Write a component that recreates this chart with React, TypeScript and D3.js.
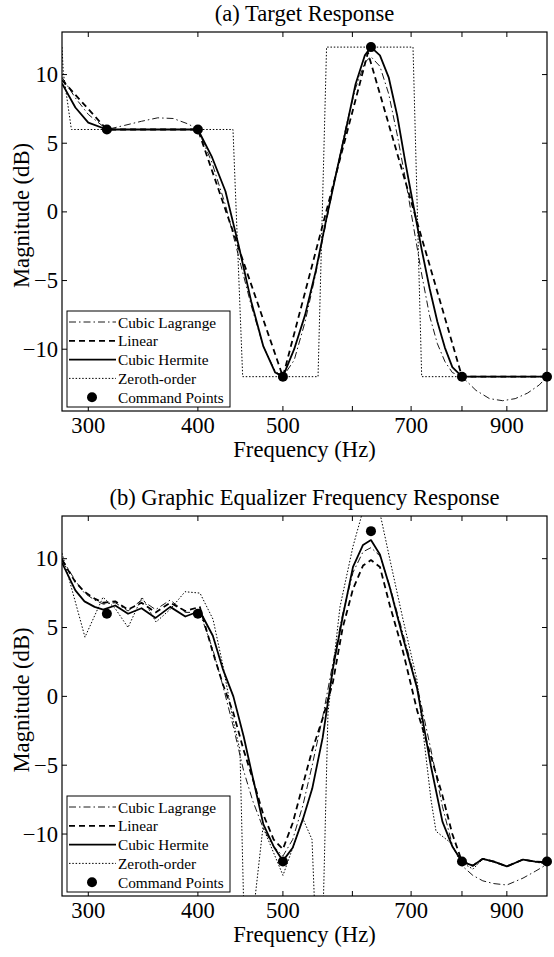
import * as d3 from "d3";

// command points shared by both panels
const cmdFreq = [315, 400, 500, 630, 800, 1000];
const cmdDb = [6, 6, -12, 12, -12, -12];

const xTicks = [300, 400, 500, 600, 700, 800, 900];
const xTickLabels = ["300", "400", "500", "", "700", "", "900"];
const yTicks = [10, 5, 0, -5, -10];

// (a) target response
const freqA = [
  280, 290, 300, 315, 330, 345, 360, 375, 390, 400, 415, 430, 445, 460, 475,
  490, 500, 515, 530, 545, 560, 575, 590, 605, 620, 630, 645, 660, 675, 690,
  705, 720, 735, 750, 765, 780, 800, 830, 860, 890, 920, 950, 980, 1000,
];
const lagrangeA = [
  9.8, 8.3, 7.1, 6.0, 6.3, 6.6, 6.85, 6.8, 6.4, 6.0, 3.6, 0.5, -3.2, -6.8,
  -9.8, -11.6, -12.0, -10.8, -8.0, -4.5, -0.8, 2.8, 6.2, 9.0, 10.9, 11.3, 10.6,
  8.6, 5.6, 2.3, -1.2, -4.6, -7.6, -9.6, -10.9, -11.7, -12.0, -13.0, -13.6,
  -13.75, -13.6, -13.2, -12.6, -12.0,
];
const hermiteA = [
  9.35, 7.6, 6.5, 6.0, 6.0, 6.0, 6.0, 6.0, 6.0, 6.0, 4.0, 1.5, -2.4, -6.5,
  -9.8, -11.7, -12.0, -10.0, -7.5, -4.3, -0.6, 2.8, 6.0, 9.3, 11.4, 12.0, 11.4,
  9.8, 7.0, 3.5, 0.3, -2.8, -5.6, -8.0, -9.9, -11.3, -12.0, -12.0, -12.0,
  -12.0, -12.0, -12.0, -12.0, -12.0,
];
const linearFreqA = [280, 315, 400, 500, 625, 800, 1000];
const linearA = [9.6, 6, 6, -12, 11.6, -12, -12];
const zeroFreqA = [280, 281, 287, 438.6, 449.9, 548.3, 560.7, 703.5, 719.7, 1000];
const zeroA = [12, 10.1, 6, 6, -12, -12, 12, 12, -12, -12];

// (b) graphic equalizer frequency response
const freqB = [
  280, 290, 297, 305, 312, 322, 333, 345, 358, 372, 387, 402, 416, 427, 439,
  451, 462, 475, 488, 500, 513, 527, 540, 555, 570, 585, 601, 617, 630, 645,
  662, 685, 711, 737, 760, 780, 800, 823, 845, 870, 900, 939, 970, 1000,
];
const lagrangeB = [
  10.0, 8.4, 7.5, 7.0, 6.7, 6.8, 6.2, 7.0, 6.3, 7.0, 6.1, 6.1, 3.4, 0.8, -2.2,
  -5.4, -7.6, -9.6, -10.9, -11.6, -10.4, -7.9, -5.0, -1.5, 2.4, 6.0, 9.0, 10.5,
  10.8, 10.2, 8.0, 4.6, 0.8, -3.8, -8.0, -10.8, -12.3, -13.0, -13.4, -13.6,
  -13.7, -13.2, -12.7, -12.2,
];
const linearB = [
  9.9, 8.3, 7.6, 7.1, 6.8, 6.9, 6.3, 6.8, 6.1, 6.8, 6.2, 6.5, 3.2, 0.9, -1.2,
  -3.9, -6.0, -8.6, -10.4, -11.1, -9.2, -6.4, -3.9, -1.6, 1.0, 5.0, 7.8, 9.5,
  9.9, 9.4, 6.6, 3.3, -1.0, -4.3, -7.2, -10.0, -12.0, -12.3, -11.8, -12.0,
  -12.35, -11.85, -12.0, -12.05,
];
const hermiteB = [
  9.7, 7.7, 6.9, 6.5, 6.3, 6.6, 6.0, 6.4, 5.7, 6.5, 5.8, 6.2, 4.4, 2.0, 0.0,
  -2.9, -5.9, -9.3, -10.9, -11.95, -11.0, -8.9, -6.7, -3.0, 2.0, 5.8, 9.4, 11.0,
  11.35, 10.3, 7.9, 4.3, 0.6, -5.0, -9.1, -10.9, -12.0, -12.3, -11.8, -12.0,
  -12.35, -11.85, -12.0, -12.05,
];
const zeroFreqB = [
  280, 297.4, 311.8, 321.8, 333, 345.4, 358.4, 371.7, 386.7, 402.2, 416.2,
  427.3, 438.6, 446.7, 451.4, 462.2, 474.5, 500.1, 527.1, 539.7, 544, 555.5,
  562.8, 580.8, 601, 617, 630.1, 645.1, 662.3, 685.2, 710.9, 737.5, 747.3,
  775.3, 800, 823.4, 845.3, 900.4, 939, 1000,
];
const zeroB = [
  10.4, 4.3, 7.2, 6.4, 5.0, 7.2, 5.4, 6.3, 7.6, 7.5, 5.6, 2.2, -1.7, -3.9, -16,
  -16, -9.5, -13.0, -8.9, -10.4, -16, -16, -1.2, 6.5, 10.9, 13.5, 14.2, 13.3,
  9.9, 5.6, 1.2, -7.5, -9.8, -10.6, -12.07, -12.55, -11.8, -12.35, -11.85,
  -12.2,
];

const legendNames = [
  "Cubic Lagrange",
  "Linear",
  "Cubic Hermite",
  "Zeroth-order",
  "Command Points",
];

const styles = [
  { width: 0.9, dash: "7,3,1.5,3" },
  { width: 1.8, dash: "6,4" },
  { width: 1.8, dash: "none" },
  { width: 1, dash: "1.5,1.8" },
];

const FONT = "'Liberation Serif', 'Times New Roman', serif";
const FS = 22.6;

type Series = { f: number[]; v: number[] };

const Panel = ({
  id,
  title,
  top,
  bottom,
  series,
}: {
  id: string;
  title: string;
  top: number;
  bottom: number;
  series: Series[];
}) => {
  const left = 62;
  const right = 547;
  const x = d3.scaleLog().domain([280, 1000]).range([left, right]);
  const y = d3.scaleLinear().domain([-14.5, 13.1]).range([bottom, top]);
  const line = d3
    .line<[number, number]>()
    .x((d) => x(d[0]))
    .y((d) => y(d[1]));

  const legTop = bottom - 100;
  const legLeft = 67;
  const rowH = 18.8;

  return (
    <g>
      <defs>
        <clipPath id={id}>
          <rect x={left} y={top} width={right - left} height={bottom - top} />
        </clipPath>
      </defs>
      <text
        x={(left + right) / 2}
        y={top - 11}
        textAnchor="middle"
        fontSize={FS}
        fontFamily={FONT}
      >
        {title}
      </text>

      <g clipPath={`url(#${id})`}>
        {series.map((s, i) => (
          <path
            key={i}
            d={line(s.f.map((f, j) => [f, s.v[j]] as [number, number])) || ""}
            fill="none"
            stroke="#000"
            strokeWidth={styles[i].width}
            strokeDasharray={styles[i].dash}
            strokeLinejoin="round"
          />
        ))}
      </g>
      {cmdFreq.map((f, i) => (
        <circle key={f} cx={x(f)} cy={y(cmdDb[i])} r={5} fill="#000" />
      ))}

      {/* box */}
      <rect
        x={left}
        y={top}
        width={right - left}
        height={bottom - top}
        fill="none"
        stroke="#000"
        strokeWidth={1.2}
      />
      {xTicks.map((t, i) => (
        <g key={t}>
          <line x1={x(t)} x2={x(t)} y1={bottom} y2={bottom - 5} stroke="#000" />
          <line x1={x(t)} x2={x(t)} y1={top} y2={top + 5} stroke="#000" />
          <text
            x={x(t)}
            y={bottom + 22}
            textAnchor="middle"
            fontSize={FS}
            fontFamily={FONT}
          >
            {xTickLabels[i]}
          </text>
        </g>
      ))}
      {yTicks.map((t) => (
        <g key={t}>
          <line x1={left} x2={left + 5} y1={y(t)} y2={y(t)} stroke="#000" />
          <line x1={right} x2={right - 5} y1={y(t)} y2={y(t)} stroke="#000" />
          <text
            x={left - 4}
            y={y(t)}
            textAnchor="end"
            dominantBaseline="central"
            fontSize={FS}
            fontFamily={FONT}
          >
            {t < 0 ? `\u2212${-t}` : t}
          </text>
        </g>
      ))}
      <text
        x={(left + right) / 2}
        y={bottom + 46}
        textAnchor="middle"
        fontSize={FS}
        fontFamily={FONT}
      >
        Frequency (Hz)
      </text>
      <text
        transform={`translate(21,${(top + bottom) / 2 - 6}) rotate(-90)`}
        textAnchor="middle"
        dominantBaseline="central"
        fontSize={FS}
        fontFamily={FONT}
      >
        Magnitude (dB)
      </text>

      {/* legend */}
      <rect
        x={legLeft}
        y={legTop}
        width={163}
        height={96}
        fill="#fff"
        stroke="#000"
        strokeWidth={1}
      />
      {legendNames.map((name, i) => {
        const cy = legTop + 11 + i * rowH;
        return (
          <g key={name}>
            {i < 4 ? (
              <line
                x1={legLeft + 2}
                x2={legLeft + 49}
                y1={cy}
                y2={cy}
                stroke="#000"
                strokeWidth={styles[i].width}
                strokeDasharray={styles[i].dash}
              />
            ) : (
              <circle cx={legLeft + 25} cy={cy} r={5} fill="#000" />
            )}
            <text
              x={legLeft + 51}
              y={cy}
              dominantBaseline="central"
              fontSize={15.3}
              fontFamily={FONT}
            >
              {name}
            </text>
          </g>
        );
      })}
    </g>
  );
};

export default function App() {
  return (
    <svg
      width={554}
      height={957}
      style={{ position: "absolute", left: 0, top: 0, background: "#fff" }}
    >
      <Panel
        id="clipA"
        title="(a) Target Response"
        top={32}
        bottom={411}
        series={[
          { f: freqA, v: lagrangeA },
          { f: linearFreqA, v: linearA },
          { f: freqA, v: hermiteA },
          { f: zeroFreqA, v: zeroA },
        ]}
      />
      <Panel
        id="clipB"
        title="(b) Graphic Equalizer Frequency Response"
        top={516}
        bottom={896}
        series={[
          { f: freqB, v: lagrangeB },
          { f: freqB, v: linearB },
          { f: freqB, v: hermiteB },
          { f: zeroFreqB, v: zeroB },
        ]}
      />
    </svg>
  );
}
